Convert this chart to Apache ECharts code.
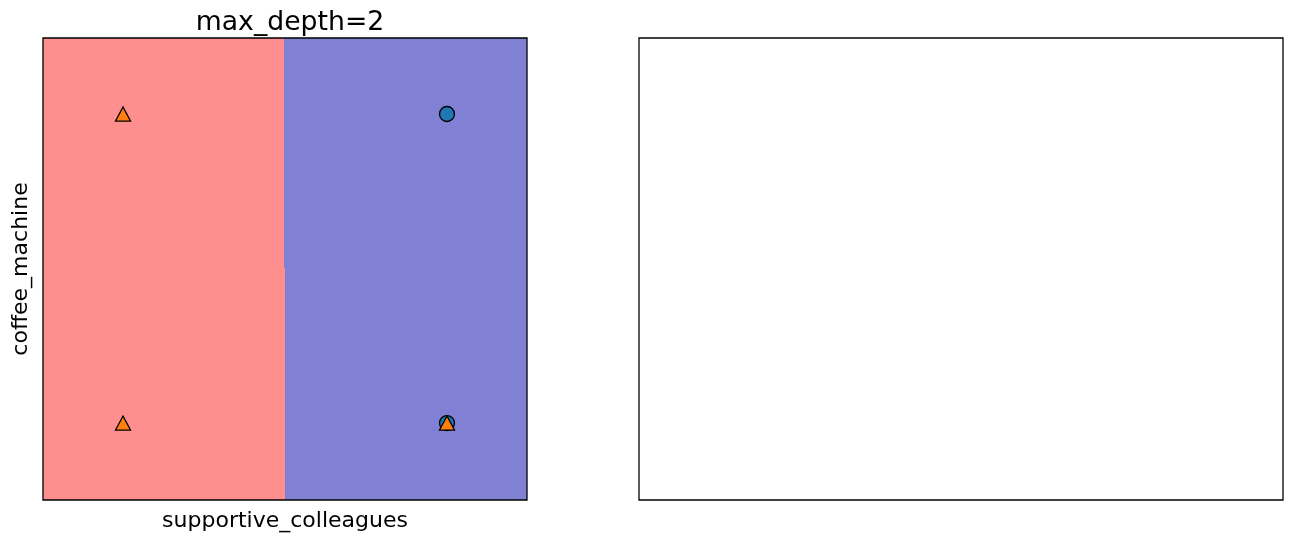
<!DOCTYPE html>
<html><head><meta charset="utf-8">
<script src="https://cdn.jsdelivr.net/npm/echarts@6/dist/echarts.min.js"></script>
<style>html,body{margin:0;padding:0;background:#fff}#c{width:1293px;height:543px}</style>
</head><body><div id="c"></div>
<script>
// decision regions: [x0, x1, y0, y1, class]
const regions = [
  [-0.247, 0.497, 0.503, 1.247, 0],
  [0.497, 1.247, 0.503, 1.247, 1],
  [-0.247, 0.5, -0.249, 0.503, 0],
  [0.5, 1.247, -0.249, 0.503, 1]
];
const circlePoints = [[1, 1], [1, 0]];
const trianglePoints = [[0, 1], [0, 0], [1, 0]];
const regionColors = ['#ff8f8f', '#8080d4'];
const chart = echarts.init(document.getElementById('c'));
const font = 'DejaVu Sans';
chart.setOption({
  animation: false,
  title: { text: 'max_depth=2', left: 285, top: 5, textAlign: 'center',
    textStyle: { fontFamily: font, fontSize: 26.7, fontWeight: 'normal', color: '#000' } },
  grid: [
    { left: 43, top: 38, width: 484, height: 462, show: true, borderColor: '#000', borderWidth: 1.3, z: 10 },
    { left: 639, top: 38, width: 644, height: 462, show: true, borderColor: '#000', borderWidth: 1.3 }
  ],
  xAxis: [
    { gridIndex: 0, type: 'value', min: -0.247, max: 1.247, axisLine: { show: false }, axisTick: { show: false },
      axisLabel: { show: false }, splitLine: { show: false },
      name: 'supportive_colleagues', nameLocation: 'middle', nameGap: 10,
      nameTextStyle: { fontFamily: font, fontSize: 22, color: '#000', verticalAlign: 'top' } },
    { gridIndex: 1, type: 'value', min: 0, max: 1, axisLine: { show: false }, axisTick: { show: false },
      axisLabel: { show: false }, splitLine: { show: false } }
  ],
  yAxis: [
    { gridIndex: 0, type: 'value', min: -0.249, max: 1.246, axisLine: { show: false }, axisTick: { show: false },
      axisLabel: { show: false }, splitLine: { show: false },
      name: 'coffee_machine', nameLocation: 'middle', nameGap: 11,
      nameTextStyle: { fontFamily: font, fontSize: 22, color: '#000' } },
    { gridIndex: 1, type: 'value', min: 0, max: 1, axisLine: { show: false }, axisTick: { show: false },
      axisLabel: { show: false }, splitLine: { show: false } }
  ],
  series: [
    { type: 'custom', xAxisIndex: 0, yAxisIndex: 0, data: regions, z: 1,
      renderItem: function (params, api) {
        const p0 = api.coord([api.value(0), api.value(3)]);
        const p1 = api.coord([api.value(1), api.value(2)]);
        const x0 = Math.round(p0[0]), y0 = Math.round(p0[1]);
        const x1 = Math.round(p1[0]), y1 = Math.round(p1[1]);
        return { type: 'rect', shape: { x: x0, y: y0, width: x1 - x0, height: y1 - y0 },
          style: { fill: regionColors[api.value(4)] } };
      } },
    { type: 'scatter', xAxisIndex: 0, yAxisIndex: 0, data: circlePoints, symbol: 'circle', symbolSize: 15, z: 3,
      itemStyle: { color: '#1f77b4', borderColor: '#000', borderWidth: 1.3, opacity: 1 } },
    { type: 'scatter', xAxisIndex: 0, yAxisIndex: 0, data: trianglePoints, symbol: 'triangle', symbolSize: [15, 14], z: 4,
      itemStyle: { color: '#ff7f0e', borderColor: '#000', borderWidth: 1.3, opacity: 1 } }
  ]
});
</script></body></html>
